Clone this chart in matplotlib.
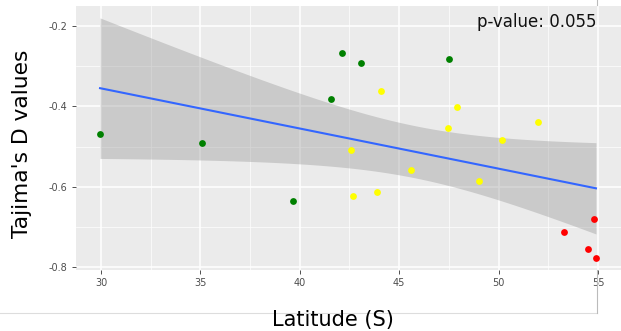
import matplotlib
matplotlib.use("Agg")
import matplotlib.pyplot as plt
import numpy as np
from matplotlib.lines import Line2D

# latitude (S) and Tajima's D per population, grouped by colour
green_lat = [29.95, 35.1, 39.65, 42.1, 43.1, 41.55, 47.5]
green_d = [-0.469, -0.491, -0.636, -0.268, -0.291, -0.381, -0.283]
yellow_lat = [44.1, 47.9, 47.45, 51.96, 50.15, 42.6, 45.6, 42.7, 43.9, 49.0]
yellow_d = [-0.362, -0.402, -0.454, -0.439, -0.484, -0.509, -0.559, -0.623, -0.613, -0.586]
red_lat = [53.3, 54.8, 54.5, 54.9]
red_d = [-0.712, -0.680, -0.756, -0.777]
p_value = "0.055"

x_ticks = [30, 35, 40, 45, 50, 55]
y_ticks = [-0.8, -0.6, -0.4, -0.2]

W, H = 621, 331
fig = plt.figure(figsize=(W / 100, H / 100), dpi=100)
ax = fig.add_axes([76 / W, 1 - 270 / H, 1 - 76 / W, (270 - 6) / H])

ax.set_facecolor("#EBEBEB")
for s in ax.spines.values():
    s.set_visible(False)

# grid, ggplot-like
for v in np.arange(27.5, 57.6, 2.5):
    lw = 1.1 if v % 5 == 0 else 0.5
    ax.axvline(v, color="white", lw=lw, zorder=0)
for v in np.arange(-0.9, -0.09, 0.1):
    lw = 1.1 if round(v * 10) % 2 == 0 else 0.5
    ax.axhline(v, color="white", lw=lw, zorder=0)

# linear fit with 95% confidence band
all_x = np.array(green_lat + yellow_lat + red_lat)
all_y = np.array(green_d + yellow_d + red_d)
n = len(all_x)
slope, icpt = np.polyfit(all_x, all_y, 1)
resid = all_y - (slope * all_x + icpt)
s_err = np.sqrt(np.sum(resid ** 2) / (n - 2))
sxx = np.sum((all_x - all_x.mean()) ** 2)
xs = np.linspace(all_x.min(), all_x.max(), 80)
fit = slope * xs + icpt
se = s_err * np.sqrt(1 / n + (xs - all_x.mean()) ** 2 / sxx)
t = 2.093  # t(0.975, 19)
ax.fill_between(xs, fit - t * se, fit + t * se, color="#999999", alpha=0.4, lw=0, zorder=2)
ax.plot(xs, fit, color="#3366FF", lw=1.5, zorder=3)

ax.scatter(green_lat, green_d, s=24, color="#008000", zorder=4, linewidths=0)
ax.scatter(yellow_lat, yellow_d, s=24, color="#FFFF00", zorder=4, linewidths=0)
ax.scatter(red_lat, red_d, s=24, color="#FF0000", zorder=4, linewidths=0)

ax.set_xlim(28.74, 56.16)
ax.set_ylim(-0.8075, -0.150)
ax.set_xticks(x_ticks)
ax.set_yticks(y_ticks)
ax.set_xticklabels([str(v) for v in x_ticks])
ax.set_yticklabels([f"{v:.1f}" for v in y_ticks])
ax.tick_params(length=3, width=0.6, color="#333333", labelcolor="#4D4D4D",
               labelsize=7, pad=3)

ax.text(0.955, 0.94, "p-value: " + p_value, transform=ax.transAxes,
        ha="right", va="center", fontsize=12, color="#111111")

fig.text(22 / W, 1 - 144 / H, "Tajima's D values", rotation=90,
         ha="center", va="center", fontsize=15.7)
fig.text(333 / W, 1 - 320 / H, "Latitude (S)", ha="center", va="center",
         fontsize=15)

# leftover frame lines from the composed figure
fig.add_artist(Line2D([0, 597 / W], [1 - 313 / H] * 2, color="#DDDDDD", lw=0.8))
fig.add_artist(Line2D([597 / W] * 2, [1 - 313 / H, 1 - 270 / H], color="#BBBBBB", lw=0.8))
fig.add_artist(Line2D([597 / W] * 2, [1.0, 1 - 5 / H], color="#BBBBBB", lw=0.8))

fig.savefig("out.png", dpi=100)
